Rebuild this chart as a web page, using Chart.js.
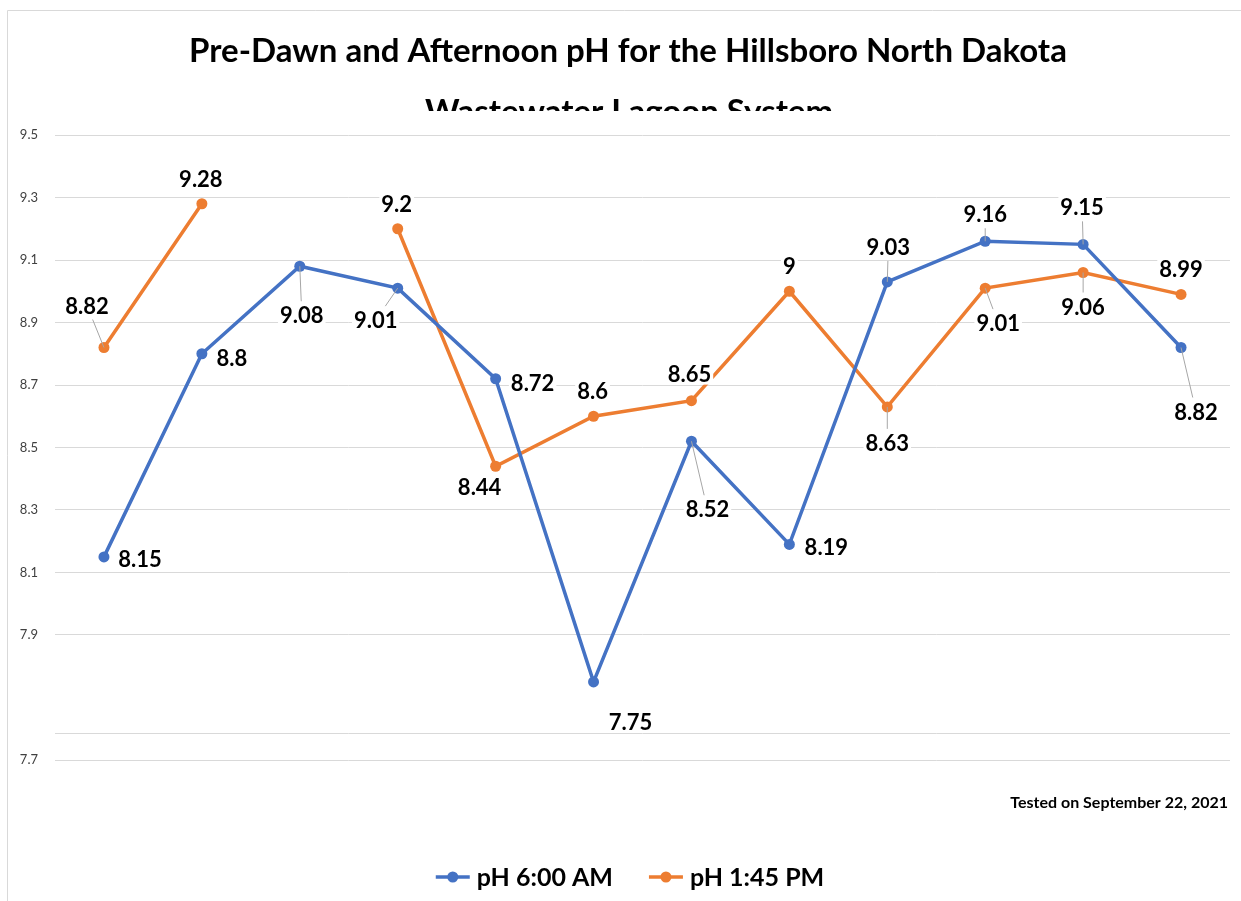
<!DOCTYPE html>
<html>
<head>
<meta charset="utf-8">
<title>Hillsboro pH</title>
<script src="https://cdn.jsdelivr.net/npm/chart.js@4"></script>
<style>
    body { margin: 0; background: #fff; }
    #wrap { width: 1241px; height: 901px; position: relative; }
</style>
</head>
<body>
<div id="wrap"><canvas id="ph-chart"></canvas></div>
<script>
// Data
var samples = ["1", "2", "3", "4", "5", "6", "7", "8", "9", "10", "11", "12"];
var phMorning = [8.15, 8.8, 9.08, 9.01, 8.72, 7.75, 8.52, 8.19, 9.03, 9.16, 9.15, 8.82];
var phAfternoon = [8.82, 9.28, null, 9.2, 8.44, 8.6, 8.65, 9, 8.63, 9.01, 9.06, 8.99];

// y axis ticks as they appear (the bottom label reads 7.7, one line has no label)
var yTickValues = [7.5, 7.586, 7.9, 8.1, 8.3, 8.5, 8.7, 8.9, 9.1, 9.3, 9.5];
var yTickLabels = ["7.7", "", "7.9", "8.1", "8.3", "8.5", "8.7", "8.9", "9.1", "9.3", "9.5"];

var titleLines = ["Pre-Dawn and Afternoon pH for the Hillsboro North Dakota", "Wastewater Lagoon System"];
var footNote = "Tested on September 22, 2021";

// label placement (offset from point) and leader lines
var morningDx = [36, 30, 2, -22, 37, 37, 16, 37, 1, 0, -1, 15];
var morningDy = [2, 4, 49, 32, 4, 40, 68, 3, -35, -27, -37, 64];
var morningLeader = [0, 0, 1, 1, 0, 0, 1, 0, 1, 1, 1, 1];
var afternoonDx = [-17, -1, 0, -1, -16, -1, -2, 0, 0, 13, 0, 0];
var afternoonDy = [-42, -25, 0, -25, 21, -25, -27, -25, 36, 35, 34, -25];
var afternoonLeader = [1, 0, 0, 0, 0, 0, 0, 0, 1, 1, 1, 0];

var BLUE = "#4472C4";
var ORANGE = "#ED7D31";
var FONT = "Lato, 'Open Sans', sans-serif";

// frame, title and footnote
var decorPlugin = {
    id: "decor",
    beforeDraw: function (chart) {
        var ctx = chart.ctx;
        ctx.save();
        ctx.strokeStyle = "#d9d9d9";
        ctx.lineWidth = 1;
        ctx.beginPath();
        ctx.moveTo(7.5, 901);
        ctx.lineTo(7.5, 10.5);
        ctx.lineTo(1241, 10.5);
        ctx.stroke();
        ctx.restore();
    },
    afterDraw: function (chart) {
        var ctx = chart.ctx;
        ctx.save();
        ctx.fillStyle = "#000";
        ctx.textAlign = "center";
        ctx.textBaseline = "alphabetic";
        ctx.font = "bold 33px " + FONT;
        ctx.fillText(titleLines[0], 628, 62);
        // second line is cut off by the plot area
        ctx.beginPath();
        ctx.rect(0, 0, 1241, 111);
        ctx.clip();
        ctx.fillText(titleLines[1], 629, 123);
        ctx.restore();

        ctx.save();
        ctx.fillStyle = "#000";
        ctx.font = "bold 16px " + FONT;
        ctx.textAlign = "right";
        ctx.textBaseline = "middle";
        ctx.fillText(footNote, 1228, 803);

        // legend
        ctx.font = "bold 25px " + FONT;
        ctx.textAlign = "left";
        var items = chart.data.datasets.map(function (ds) {
            return { text: ds.label, color: ds.borderColor, w: ctx.measureText(ds.label).width };
        });
        var lineW = 34, gapText = 7, gapItem = 36;
        var total = 0;
        items.forEach(function (it, i) {
            total += lineW + gapText + it.w + (i ? gapItem : 0);
        });
        var x = 630 - total / 2, y = 877;
        items.forEach(function (it) {
            ctx.strokeStyle = it.color;
            ctx.lineWidth = 3.5;
            ctx.beginPath();
            ctx.moveTo(x, y);
            ctx.lineTo(x + lineW, y);
            ctx.stroke();
            ctx.fillStyle = it.color;
            ctx.beginPath();
            ctx.arc(x + lineW / 2, y, 5.5, 0, Math.PI * 2);
            ctx.fill();
            ctx.fillStyle = "#000";
            ctx.fillText(it.text, x + lineW + gapText, y + 1);
            x += lineW + gapText + it.w + gapItem;
        });
        ctx.restore();
    }
};

// data labels with white boxes and grey leader lines
var labelPlugin = {
    id: "pointLabels",
    afterDatasetsDraw: function (chart) {
        var ctx = chart.ctx;
        var place = [
            { dx: morningDx, dy: morningDy, leader: morningLeader },
            { dx: afternoonDx, dy: afternoonDy, leader: afternoonLeader }
        ];
        ctx.save();
        ctx.font = "bold 22px " + FONT;
        ctx.textAlign = "center";
        ctx.textBaseline = "middle";
        chart.data.datasets.forEach(function (ds, d) {
            var meta = chart.getDatasetMeta(d);
            meta.data.forEach(function (pt, i) {
                var v = ds.data[i];
                if (v === null) return;
                var txt = String(v);
                var cx = pt.x + place[d].dx[i];
                var cy = pt.y + place[d].dy[i];
                var w = ctx.measureText(txt).width + 4;
                var h = 24;
                if (place[d].leader[i]) {
                    var ddx = cx - pt.x, ddy = cy - pt.y;
                    var t = Math.min(ddx ? (w / 2 + 2) / Math.abs(ddx) : 99, ddy ? (h / 2 + 2) / Math.abs(ddy) : 99);
                    ctx.strokeStyle = "#a6a6a6";
                    ctx.lineWidth = 1;
                    ctx.beginPath();
                    ctx.moveTo(pt.x, pt.y);
                    ctx.lineTo(cx - ddx * t, cy - ddy * t);
                    ctx.stroke();
                }
                ctx.fillStyle = "#fff";
                ctx.fillRect(cx - w / 2, cy - h / 2 + 1, w, h - 2);
                ctx.fillStyle = "#000";
                ctx.fillText(txt, cx, cy + 1);
            });
        });
        ctx.restore();
    }
};

var ctx = document.getElementById("ph-chart").getContext("2d");
var phChart = new Chart(ctx, {
    type: "line",
    data: {
        labels: samples,
        datasets: [
            {
                label: "pH 6:00 AM",
                data: phMorning,
                borderColor: BLUE,
                backgroundColor: BLUE,
                borderWidth: 3.5,
                pointRadius: 5.5,
                pointBorderWidth: 0,
                tension: 0
            },
            {
                label: "pH 1:45 PM",
                data: phAfternoon,
                borderColor: ORANGE,
                backgroundColor: ORANGE,
                borderWidth: 3.5,
                pointRadius: 5.5,
                pointBorderWidth: 0,
                spanGaps: false,
                tension: 0
            }
        ]
    },
    options: {
        responsive: true,
        maintainAspectRatio: false,
        animation: false,
        layout: { padding: { left: 0, right: 11, top: 135, bottom: 141 } },
        plugins: {
            legend: { display: false },
            tooltip: { enabled: false },
            title: { display: false }
        },
        scales: {
            x: {
                type: "category",
                offset: true,
                display: false
            },
            y: {
                min: 7.5,
                max: 9.5,
                afterFit: function (scale) { scale.width = 55; },
                afterBuildTicks: function (scale) {
                    scale.ticks = yTickValues.map(function (v) { return { value: v }; });
                },
                border: { display: false },
                grid: { color: "#d9d9d9", lineWidth: 1, drawTicks: false },
                ticks: {
                    padding: 17,
                    color: "#404040",
                    font: { family: FONT, size: 13 },
                    callback: function (value, index) { return yTickLabels[index]; }
                }
            }
        }
    },
    plugins: [decorPlugin, labelPlugin]
});
</script>
</body>
</html>
